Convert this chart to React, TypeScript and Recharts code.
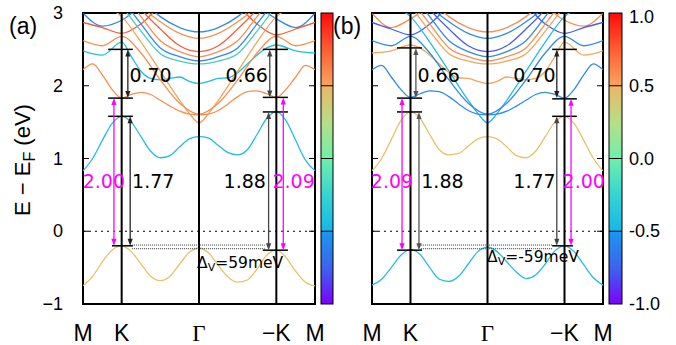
import React from 'react';
import { LineChart, Line, XAxis, YAxis, ReferenceLine, ReferenceDot, ReferenceArea } from 'recharts';

// k-path ticks and energy ticks
const kTicks = [0, 1, 3, 5, 6];
const kNames = ['M', 'K', 'Γ', '−K', 'M'];
const eTicks = [-1, 0, 1, 2, 3];
const eNames = ['−1', '0', '1', '2', '3'];
const barTicks = ['1.0', '0.5', '0.0', '-0.5', '-1.0'];

// k grids
const kFine = [0, 0.25, 0.5, 0.75, 1, 1.25, 1.5, 1.75, 2, 2.25, 2.5, 2.75, 3, 3.25, 3.5, 3.75, 4, 4.25, 4.5, 4.75, 5, 5.25, 5.5, 5.75, 6];
const kHalf = [0, 0.5, 1, 1.5, 2, 2.5, 3, 3.5, 4, 4.5, 5, 5.5, 6];
const kMid = [1, 1.5, 2, 2.5, 3, 3.5, 4, 4.5, 5];
const kVee = [0, 0.5, 1, 1.5, 2, 2.5, 2.75, 3, 3.25, 3.5, 4, 4.5, 5, 5.5, 6];
const kWave = [0, 0.5, 1, 1.25, 1.5, 1.75, 2, 2.25, 2.5, 2.75, 3, 3.25, 3.5, 3.75, 4, 4.25, 4.5, 4.75, 5, 5.5, 6];

// panel (a) bands (eV)
const aVal = [-0.75, -0.62, -0.42, -0.26, -0.2, -0.28, -0.45, -0.62, -0.68, -0.62, -0.45, -0.29, -0.23, -0.3, -0.47, -0.63, -0.7, -0.67, -0.52, -0.33, -0.26, -0.36, -0.55, -0.7, -0.75];
const aCond1 = [0.83, 1.0, 1.25, 1.48, 1.58, 1.5, 1.3, 1.1, 1.01, 1.04, 1.16, 1.27, 1.3, 1.28, 1.18, 1.08, 1.05, 1.12, 1.33, 1.55, 1.64, 1.52, 1.25, 0.98, 0.83];
const aCond2 = [2.22, 2.3, 2.15, 1.95, 1.83, 1.88, 1.91, 1.88, 1.8, 1.72, 1.65, 1.61, 1.6, 1.61, 1.66, 1.75, 1.85, 1.92, 1.93, 1.89, 1.84, 1.95, 2.12, 2.28, 2.22];
const aPara = [2.62, 2.55, 2.68, 2.45, 2.08, 1.76, 1.61, 1.76, 2.08, 2.45, 2.68, 2.55, 2.62];
const aVee = [3.2, 3.1, 2.95, 2.6, 2.2, 1.8, 1.62, 1.49, 1.62, 1.8, 2.2, 2.6, 2.95, 3.1, 3.2];
const aWave = [2.48, 2.42, 2.6, 2.4, 2.2, 2.1, 2.08, 2.1, 2.12, 2.06, 2.03, 2.06, 2.1, 2.11, 2.18, 2.3, 2.42, 2.52, 2.56, 2.48, 2.45];
const aG1 = [3.4, 3.05, 2.78, 2.55, 2.47, 2.55, 2.78, 3.05, 3.4];
const aG2 = [3.2, 2.85, 2.52, 2.4, 2.34, 2.4, 2.52, 2.85, 3.2];
const aG3 = [3.1, 2.75, 2.44, 2.34, 2.3, 2.34, 2.44, 2.75, 3.1];
const aG4 = [3.6, 3.2, 2.95, 2.8, 2.74, 2.8, 2.95, 3.2, 3.6];
const aG5 = [3.5, 3.1, 2.88, 2.72, 2.65, 2.72, 2.88, 3.1, 3.5];
const aG6 = [3.3, 2.95, 2.62, 2.47, 2.4, 2.47, 2.62, 2.95, 3.3];
const aTop1 = [2.87, 2.8, 2.72, 2.85, 3.1, 3.3, 3.4, 3.3, 3.1, 2.85, 2.7, 2.78, 2.87];
const aTop2 = [3.0, 2.82, 2.9, 3.1, 3.3, 3.4, 3.5, 3.4, 3.3, 3.1, 2.92, 2.8, 3.0];

// panel (b) bands (eV)
const bVal = [-0.74, -0.66, -0.5, -0.33, -0.25, -0.32, -0.5, -0.66, -0.69, -0.62, -0.45, -0.28, -0.22, -0.28, -0.42, -0.56, -0.65, -0.6, -0.45, -0.27, -0.2, -0.28, -0.46, -0.64, -0.74];
const bCond1 = [0.83, 1.0, 1.26, 1.52, 1.64, 1.55, 1.33, 1.12, 1.05, 1.07, 1.17, 1.27, 1.3, 1.27, 1.16, 1.04, 1.01, 1.1, 1.3, 1.5, 1.58, 1.48, 1.25, 1.0, 0.83];
const bCond2 = [2.22, 2.28, 2.12, 1.95, 1.84, 1.89, 1.93, 1.92, 1.85, 1.75, 1.66, 1.61, 1.6, 1.61, 1.65, 1.72, 1.8, 1.88, 1.91, 1.88, 1.83, 1.95, 2.15, 2.3, 2.22];
const bPara = [2.62, 2.55, 2.68, 2.45, 2.08, 1.76, 1.61, 1.76, 2.08, 2.45, 2.68, 2.55, 2.62];
const bVee = [3.2, 3.1, 2.95, 2.6, 2.2, 1.8, 1.62, 1.49, 1.62, 1.8, 2.2, 2.6, 2.95, 3.1, 3.2];
const bWave = [2.45, 2.48, 2.56, 2.52, 2.42, 2.3, 2.18, 2.11, 2.1, 2.06, 2.03, 2.06, 2.12, 2.1, 2.08, 2.1, 2.2, 2.4, 2.6, 2.42, 2.48];
const bG1 = [3.4, 3.05, 2.78, 2.55, 2.47, 2.55, 2.78, 3.05, 3.4];
const bG2 = [3.2, 2.85, 2.52, 2.4, 2.34, 2.4, 2.52, 2.85, 3.2];
const bG3 = [3.1, 2.75, 2.44, 2.34, 2.3, 2.34, 2.44, 2.75, 3.1];
const bG4 = [3.6, 3.2, 2.95, 2.8, 2.74, 2.8, 2.95, 3.2, 3.6];
const bG5 = [3.5, 3.1, 2.88, 2.72, 2.65, 2.72, 2.88, 3.1, 3.5];
const bG6 = [3.3, 2.95, 2.62, 2.47, 2.4, 2.47, 2.62, 2.95, 3.3];
const bTop1 = [2.87, 2.78, 2.7, 2.85, 3.1, 3.3, 3.4, 3.3, 3.1, 2.85, 2.72, 2.8, 2.87];
const bTop2 = [3.0, 2.8, 2.92, 3.1, 3.3, 3.4, 3.5, 3.4, 3.3, 3.1, 2.9, 2.82, 3.0];

// annotation values
const aArrows = [
  { k: 1.16, e1: 2.5, e2: 1.83, c: '#222' },
  { k: 1.22, e1: 1.58, e2: -0.2, c: '#222' },
  { k: 0.8, e1: 1.83, e2: -0.2, c: '#ff00ff' },
  { k: 4.83, e1: 2.5, e2: 1.84, c: '#444' },
  { k: 4.8, e1: 1.64, e2: -0.26, c: '#444' },
  { k: 5.18, e1: 1.84, e2: -0.26, c: '#ff00ff' },
];
const aBars = [
  { k1: 0.65, k2: 1.29, e: 2.5 }, { k1: 0.65, k2: 1.29, e: 1.83 }, { k1: 0.65, k2: 1.29, e: 1.58 }, { k1: 0.75, k2: 1.29, e: -0.2 },
  { k1: 4.65, k2: 5.3, e: 2.5 }, { k1: 4.65, k2: 5.3, e: 1.84 }, { k1: 4.65, k2: 5.3, e: 1.64 }, { k1: 4.65, k2: 5.3, e: -0.26 },
];
const aDots = [{ k1: 1.27, k2: 4.7, e: -0.19 }, { k1: 1.27, k2: 4.7, e: -0.24 }];
const aLabels = [
  { k: 1.2, e: 2.15, t: '0.70', a: 'start', c: '#000' },
  { k: 1.27, e: 0.69, t: '1.77', a: 'start', c: '#000' },
  { k: 0.54, e: 0.69, t: '2.00', a: 'middle', c: '#ff00ff' },
  { k: 4.78, e: 2.15, t: '0.66', a: 'end', c: '#000' },
  { k: 4.73, e: 0.69, t: '1.88', a: 'end', c: '#000' },
  { k: 4.9, e: 0.69, t: '2.09', a: 'start', c: '#ff00ff' },
];
const aDelta = { k: 2.95, e: -0.43, t: '=59meV' };

const bArrows = [
  { k: 1.14, e1: 2.52, e2: 1.83, c: '#555' },
  { k: 1.22, e1: 1.64, e2: -0.26, c: '#555' },
  { k: 0.78, e1: 1.83, e2: -0.26, c: '#ff00ff' },
  { k: 4.8, e1: 2.5, e2: 1.83, c: '#222' },
  { k: 4.8, e1: 1.58, e2: -0.2, c: '#444' },
  { k: 5.17, e1: 1.82, e2: -0.2, c: '#ff00ff' },
];
const bBars = [
  { k1: 0.65, k2: 1.3, e: 2.52 }, { k1: 0.65, k2: 1.3, e: 1.83 }, { k1: 0.65, k2: 1.3, e: 1.64 }, { k1: 0.65, k2: 1.3, e: -0.26 },
  { k1: 4.68, k2: 5.32, e: 2.5 }, { k1: 4.68, k2: 5.32, e: 1.82 }, { k1: 4.68, k2: 5.32, e: 1.58 }, { k1: 4.68, k2: 5.22, e: -0.2 },
];
const bDots = [{ k1: 1.27, k2: 4.7, e: -0.19 }, { k1: 1.27, k2: 4.7, e: -0.24 }];
const bLabels = [
  { k: 1.18, e: 2.15, t: '0.66', a: 'start', c: '#000' },
  { k: 1.28, e: 0.69, t: '1.88', a: 'start', c: '#000' },
  { k: 0.52, e: 0.69, t: '2.09', a: 'middle', c: '#ff00ff' },
  { k: 4.77, e: 2.15, t: '0.70', a: 'end', c: '#000' },
  { k: 4.77, e: 0.69, t: '1.77', a: 'end', c: '#000' },
  { k: 4.95, e: 0.69, t: '2.00', a: 'start', c: '#ff00ff' },
];
const bDelta = { k: 2.99, e: -0.36, t: '=-59meV' };

const ORANGE = '#f78f4f';
const RED = '#f0603c';
const LORANGE = '#f2a55c';
const YELLOW = '#e6c26c';
const CYAN = '#26bce2';
const BLUE = '#2f8aea';
const PURPLE = '#4a5ce8';
const MINT = '#4cc8c8';

const pts = (k: number[], e: number[]) => k.map((x, i) => ({ k: x, e: e[i] }));

const bandsA = [
  { d: pts(kHalf, aTop2), c: BLUE },
  { d: pts(kHalf, aTop1), c: RED },
  { d: pts(kMid, aG4), c: BLUE },
  { d: pts(kMid, aG5), c: ORANGE },
  { d: pts(kMid, aG1), c: RED },
  { d: pts(kMid, aG6), c: ORANGE },
  { d: pts(kMid, aG2), c: BLUE },
  { d: pts(kMid, aG3), c: MINT },
  { d: pts(kWave, aWave), c: CYAN },
  { d: pts(kVee, aVee), c: LORANGE },
  { d: pts(kHalf, aPara), c: ORANGE },
  { d: pts(kFine, aCond2), c: ORANGE },
  { d: pts(kFine, aCond1), c: CYAN },
  { d: pts(kFine, aVal), c: YELLOW },
];
const bandsB = [
  { d: pts(kHalf, bTop2), c: ORANGE },
  { d: pts(kHalf, bTop1), c: PURPLE },
  { d: pts(kMid, bG4), c: ORANGE },
  { d: pts(kMid, bG5), c: BLUE },
  { d: pts(kMid, bG1), c: PURPLE },
  { d: pts(kMid, bG6), c: BLUE },
  { d: pts(kMid, bG2), c: ORANGE },
  { d: pts(kMid, bG3), c: LORANGE },
  { d: pts(kWave, bWave), c: LORANGE },
  { d: pts(kVee, bVee), c: CYAN },
  { d: pts(kHalf, bPara), c: BLUE },
  { d: pts(kFine, bCond2), c: BLUE },
  { d: pts(kFine, bCond1), c: YELLOW },
  { d: pts(kFine, bVal), c: CYAN },
];

const SANS = 'Liberation Sans, Arial, sans-serif';
const DEJA = 'DejaVu Sans, sans-serif';

const arrowShape = (color: string) => (p: any) => {
  const x = p.x1;
  const top = Math.min(p.y1, p.y2);
  const bot = Math.max(p.y1, p.y2);
  return (
    <g>
      <line x1={x} x2={x} y1={top + 5} y2={bot - 5} stroke={color} strokeWidth={1.3} />
      <path d={`M${x},${top} L${x - 2.6},${top + 7} L${x + 2.6},${top + 7} Z`} fill={color} />
      <path d={`M${x},${bot} L${x - 2.6},${bot - 7} L${x + 2.6},${bot - 7} Z`} fill={color} />
    </g>
  );
};

interface PanelProps {
  left: number;
  width: number;
  yw: number;
  right: number;
  showY: boolean;
  bands: { d: { k: number; e: number }[]; c: string }[];
  arrows: typeof aArrows;
  bars: typeof aBars;
  dots: typeof aDots;
  labels: typeof aLabels;
  delta: typeof aDelta;
}

const Panel: React.FC<PanelProps> = ({ left, width, yw, right, showY, bands, arrows, bars, dots, labels, delta }) => {
  const plotL = yw;
  const plotR = width - right;
  const yTick = (p: any) => {
    const i = eTicks.indexOf(p.payload.value);
    return (
      <g>
        {showY && (
          <text x={plotL - 20} y={p.y} textAnchor="end" dominantBaseline="central" fontSize={18} fontFamily={SANS} fill="#000">
            {eNames[i]}
          </text>
        )}
        <line x1={plotL} x2={plotL + 6} y1={p.y} y2={p.y} stroke="#000" strokeWidth={1} />
        <line x1={plotR - 6} x2={plotR} y1={p.y} y2={p.y} stroke="#000" strokeWidth={1} />
      </g>
    );
  };
  const xTick = (p: any) => {
    const i = kTicks.indexOf(p.payload.value);
    const isG = kNames[i] === 'Γ';
    return (
      <text x={p.x} y={341} textAnchor="middle" fontSize={23} fontFamily={isG ? 'Liberation Serif, serif' : SANS} fill="#000">
        {kNames[i]}
      </text>
    );
  };
  return (
    <div style={{ position: 'absolute', left, top: 0 }}>
      <LineChart width={width} height={345} margin={{ top: 13, right, bottom: 0, left: 0 }}>
        <XAxis type="number" dataKey="k" domain={[0, 6]} ticks={kTicks} allowDataOverflow height={41} axisLine={false} tickLine={false} tick={xTick} interval={0} />
        <YAxis type="number" dataKey="e" domain={[-1, 3]} ticks={eTicks} allowDataOverflow width={yw} axisLine={false} tickLine={false} tick={yTick} interval={0} />
        {bands.map((b, i) => (
          <Line key={i} data={b.d} dataKey="e" type="monotone" stroke={b.c} strokeWidth={1.3} dot={false} isAnimationActive={false} />
        ))}
        <ReferenceLine y={0} stroke="#000" strokeWidth={1} strokeDasharray="2 4" />
        {[1, 3, 5].map((k) => (
          <ReferenceLine key={k} x={k} stroke="#000" strokeWidth={2} />
        ))}
        {dots.map((d, i) => (
          <ReferenceLine key={'d' + i} segment={[{ x: d.k1, y: d.e }, { x: d.k2, y: d.e }]} stroke="#333" strokeWidth={1} strokeDasharray="1 1" />
        ))}
        {bars.map((b, i) => (
          <ReferenceLine key={'b' + i} segment={[{ x: b.k1, y: b.e }, { x: b.k2, y: b.e }]} stroke="#000" strokeWidth={1.5} />
        ))}
        {arrows.map((a, i) => (
          <ReferenceLine key={'a' + i} segment={[{ x: a.k, y: a.e1 }, { x: a.k, y: a.e2 }]} shape={arrowShape(a.c)} />
        ))}
        {labels.map((l, i) => (
          <ReferenceDot
            key={'l' + i}
            x={l.k}
            y={l.e}
            r={0}
            shape={(p: any) => (
              <text x={p.cx} y={p.cy} textAnchor={l.a as any} dominantBaseline="central" fontSize={19} fontFamily={DEJA} fill={l.c}>
                {l.t}
              </text>
            )}
          />
        ))}
        <ReferenceDot
          x={delta.k}
          y={delta.e}
          r={0}
          shape={(p: any) => (
            <text x={p.cx} y={p.cy} dominantBaseline="central" fontSize={15.5} fontFamily={DEJA} fill="#000">
              Δ<tspan fontSize={11} dy={4}>V</tspan>
              <tspan dy={-4}>{delta.t}</tspan>
            </text>
          )}
        />
        <ReferenceArea x1={0} x2={6} y1={-1} y2={3} fill="none" stroke="#000" strokeWidth={2} />
      </LineChart>
    </div>
  );
};

const ColorBar: React.FC<{ x: number; w: number; id: string }> = ({ x, w, id }) => (
  <g>
    <defs>
      <linearGradient id={id} x1="0" y1="0" x2="0" y2="1">
        <stop offset="0" stopColor="#ff0a0a" />
        <stop offset="0.12" stopColor="#ff5a32" />
        <stop offset="0.245" stopColor="#f8a25a" />
        <stop offset="0.255" stopColor="#eab868" />
        <stop offset="0.38" stopColor="#b4e088" />
        <stop offset="0.5" stopColor="#6ef0aa" />
        <stop offset="0.62" stopColor="#38d6d2" />
        <stop offset="0.745" stopColor="#16b8e8" />
        <stop offset="0.755" stopColor="#1a96f0" />
        <stop offset="0.88" stopColor="#3c62ee" />
        <stop offset="1" stopColor="#7c00ff" />
      </linearGradient>
    </defs>
    <rect x={x} y={13} width={w} height={291} fill={`url(#${id})`} stroke="#000" strokeWidth={1} />
    {[0.25, 0.5, 0.75].map((f) => (
      <line key={f} x1={x} x2={x + w} y1={13 + 291 * f} y2={13 + 291 * f} stroke="#000" strokeWidth={1} />
    ))}
  </g>
);

export default function App() {
  return (
    <div style={{ position: 'fixed', left: 0, top: 0, width: 676, height: 345, background: '#fff' }}>
      <Panel left={0} width={340} yw={83} right={25} showY bands={bandsA} arrows={aArrows} bars={aBars} dots={aDots} labels={aLabels} delta={aDelta} />
      <Panel left={340} width={336} yw={32} right={73} showY={false} bands={bandsB} arrows={bArrows} bars={bBars} dots={bDots} labels={bLabels} delta={bDelta} />
      <svg width={676} height={345} style={{ position: 'absolute', left: 0, top: 0, pointerEvents: 'none' }}>
        <ColorBar x={321} w={12} id="cbA" />
        <ColorBar x={609} w={13} id="cbB" />
        {barTicks.map((t, i) => (
          <text key={t} x={629} y={i === 0 ? 17 : 13 + 72.75 * i} dominantBaseline="central" fontSize={18} fontFamily={SANS} fill="#000">
            {t}
          </text>
        ))}
        <text x={9} y={34} fontSize={23} fontFamily={SANS} fill="#000">(a)</text>
        <text x={333} y={34} fontSize={23} fontFamily={SANS} fill="#000">(b)</text>
        <text transform="translate(30,160) rotate(-90)" textAnchor="middle" fontSize={22} fontFamily={SANS} fill="#000">
          E − E<tspan fontSize={16} dy={5}>F</tspan>
          <tspan dy={-5}> (eV)</tspan>
        </text>
      </svg>
    </div>
  );
}
